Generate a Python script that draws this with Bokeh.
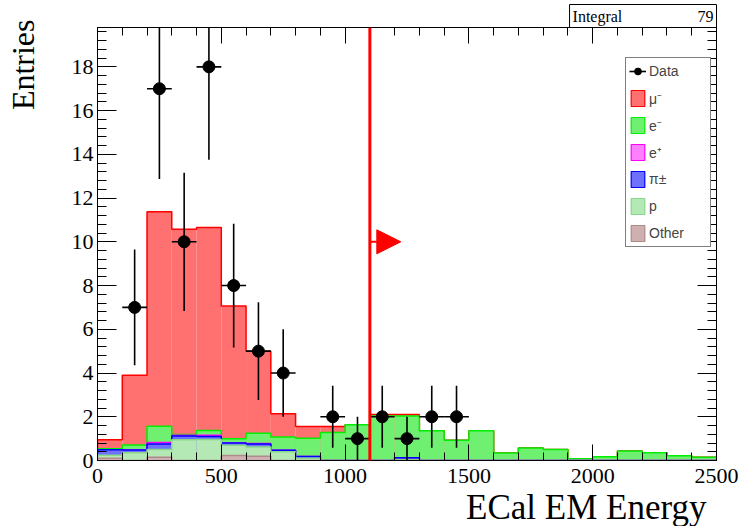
import numpy as np
from bokeh.plotting import figure
from bokeh.models import (Span, Arrow, NormalHead, Legend, LegendItem, CustomJSTickFormatter,
                          LinearAxis, SingleIntervalTicker, Range1d, Title)
from bokeh.embed import file_html
from bokeh.resources import INLINE

# ---------------- data ----------------
bin_edges = [0, 100, 200, 300, 400, 500, 600, 700, 800, 900, 1000, 1100, 1200,
             1300, 1400, 1500, 1600, 1700, 1800, 1900, 2000, 2100, 2200, 2300, 2400, 2500]

data_centers = [150, 250, 350, 450, 550, 650, 750, 950, 1050, 1150, 1250, 1350, 1450]
data_counts = [7, 17, 10, 18, 8, 5, 4, 2, 1, 2, 1, 2, 2]
integral_value = 79

# stacked MC components (bottom -> top)
other = [0.10, 0.00, 0.15, 0.00, 0.00, 0.23, 0.20, 0.00, 0.00, 0.00, 0.00, 0.00, 0.00,
         0.00, 0.00, 0.00, 0.00, 0.00, 0.00, 0.00, 0.00, 0.00, 0.00, 0.00, 0.00]
proton = [0.14, 0.36, 0.35, 0.95, 0.96, 0.47, 0.42, 0.40, 0.10, 0.00, 0.00, 0.00, 0.03,
          0.00, 0.00, 0.00, 0.00, 0.00, 0.00, 0.00, 0.00, 0.00, 0.00, 0.00, 0.00]
pion = [0.25, 0.12, 0.25, 0.17, 0.14, 0.10, 0.13, 0.07, 0.08, 0.00, 0.00, 0.00, 0.10,
        0.00, 0.00, 0.00, 0.00, 0.00, 0.00, 0.00, 0.00, 0.00, 0.00, 0.00, 0.00]
positron = [0.00, 0.00, 0.07, 0.03, 0.05, 0.00, 0.03, 0.00, 0.00, 0.00, 0.00, 0.00, 0.00,
            0.00, 0.00, 0.00, 0.00, 0.00, 0.00, 0.00, 0.00, 0.00, 0.00, 0.00, 0.00]
electron = [0.05, 0.23, 0.75, 0.04, 0.22, 0.20, 0.47, 0.60, 0.84, 1.28, 1.64, 2.03, 1.90,
            1.36, 0.93, 1.36, 0.34, 0.57, 0.50, 0.08, 0.17, 0.44, 0.35, 0.22, 0.15]
muon = [0.41, 3.19, 9.81, 9.39, 9.29, 6.06, 3.75, 1.07, 0.53, 0.27, 0.00, 0.07, 0.07,
        0.00, 0.00, 0.00, 0.00, 0.00, 0.00, 0.00, 0.00, 0.00, 0.00, 0.00, 0.00]

layer_names = ["Other", "p", "\u03c0\u00b1", "e\u207a", "e\u207b", "\u03bc\u207b"]
layer_values = [other, proton, pion, positron, electron, muon]
layer_fill = ["#cfb0b0", "#b4e8b4", "#7070ff", "#ff80ff", "#70f070", "#ff7070"]
layer_line = ["#b08a8a", "#8ad88a", "#0000ff", "#ff00ff", "#00ee00", "#ff0000"]

x_title = "ECal EM Energy"
y_title = "Entries"

cut_value = 1100
arrow_y = 10
arrow_end = 1225

x_min, x_max = 0, 2500
y_min, y_max = 0, 19.8

serif = "Liberation Serif"

# ---------------- figure ----------------
p = figure(width=742, height=526, x_range=Range1d(x_min, x_max), y_range=Range1d(y_min, y_max),
           output_backend="svg", toolbar_location=None, title="",
           min_border_left=97, min_border_right=26, min_border_top=27, min_border_bottom=66)
p.background_fill_color = "white"
p.border_fill_color = "white"
p.outline_line_color = "black"
p.outline_line_width = 1
p.grid.visible = False

bottom_ax = p.below[0]
left_ax = p.left[0]

edges = np.array(bin_edges, dtype=float)
cum = np.cumsum(np.array(layer_values, dtype=float), axis=0)


def step_path(tops):
    xs, ys = [edges[0]], [0.0]
    for i, t in enumerate(tops):
        xs += [edges[i], edges[i + 1]]
        ys += [t, t]
    xs.append(edges[-1])
    ys.append(0.0)
    return xs, ys


nan = float("nan")
legend_renderers = {}
for idx in reversed(range(len(layer_values))):
    tops = cum[idx]
    p.quad(left=edges[:-1], right=edges[1:], bottom=0, top=tops,
           fill_color=layer_fill[idx], line_color=None)
    xs, ys = step_path(tops)
    p.line(xs, ys, line_color=layer_line[idx], line_width=1.5)
    legend_renderers[idx] = p.quad(left=[nan], right=[nan], bottom=[nan], top=[nan],
                                   fill_color=layer_fill[idx], line_color=layer_line[idx],
                                   line_width=1.2)

# data points with errors
dc = np.array(data_centers, dtype=float)
dn = np.array(data_counts, dtype=float)
derr = np.sqrt(dn)
half_w = 50
r_h = p.segment(x0=dc - half_w, x1=dc + half_w, y0=dn, y1=dn, line_color="black", line_width=1.6)
r_v = p.segment(x0=dc, x1=dc, y0=dn - derr, y1=dn + derr, line_color="black", line_width=1.6)
r_pts = p.scatter(dc, dn, marker="circle", size=12, fill_color="black", line_color="black")

# cut line and arrow
p.add_layout(Span(location=cut_value, dimension="height", line_color="red", line_width=3))
p.add_layout(Arrow(x_start=cut_value, y_start=arrow_y, x_end=arrow_end, y_end=arrow_y,
                   line_color="red", line_width=2,
                   end=NormalHead(size=24, fill_color="red", line_color="red")))

# axes
bottom_ax.ticker = SingleIntervalTicker(interval=500, num_minor_ticks=5)
bottom_ax.major_tick_in = 16
bottom_ax.minor_tick_in = 8
left_ax.ticker = SingleIntervalTicker(interval=2, num_minor_ticks=5)
left_ax.major_tick_in = 19
left_ax.minor_tick_in = 9

top_ax = LinearAxis(ticker=SingleIntervalTicker(interval=500, num_minor_ticks=5))
top_ax.major_tick_in = 16
top_ax.minor_tick_in = 8
right_ax = LinearAxis(ticker=SingleIntervalTicker(interval=2, num_minor_ticks=5))
right_ax.major_tick_in = 19
right_ax.minor_tick_in = 9
for ax in (top_ax, right_ax):
    ax.formatter = CustomJSTickFormatter(code="return ''")
    ax.major_label_text_font_size = "1px"
    ax.major_label_standoff = 0
p.add_layout(top_ax, "above")
p.add_layout(right_ax, "right")

for ax in (bottom_ax, left_ax, top_ax, right_ax):
    ax.major_tick_out = 0
    ax.minor_tick_out = 0
    ax.axis_line_color = "black"
    ax.major_tick_line_color = "black"
    ax.minor_tick_line_color = "black"
    ax.major_label_text_font = serif
    ax.major_label_text_color = "black"

bottom_ax.major_label_text_font_size = "22px"
left_ax.major_label_text_font_size = "22px"
bottom_ax.major_label_standoff = 8
left_ax.major_label_standoff = 4

# x title, right aligned like the original
p.add_layout(Title(text=x_title, align="right", offset=10, standoff=0,
                   text_font=serif, text_font_size="35px", text_font_style="normal",
                   text_color="black"), "below")

# y title: the axis label, pushed to the top end with leading en spaces
left_ax.axis_label = "\u2002" * 22 + "\u2009" + y_title
left_ax.axis_label_text_font = serif
left_ax.axis_label_text_font_size = "32px"
left_ax.axis_label_text_font_style = "normal"
left_ax.axis_label_text_color = "black"
left_ax.axis_label_standoff = 28

# stat box as the title
p.title.text = "Integral" + "\u2002" * 9 + "\u2009" + str(integral_value)
p.title.align = "right"
p.title.text_font = serif
p.title.text_font_size = "16px"
p.title.text_font_style = "normal"
p.title.text_color = "black"
p.title.standoff = 0
p.title.border_line_color = "black"
p.title.border_line_width = 1
p.title.background_fill_color = "white"
try:
    p.title.padding = 3
except Exception:
    pass

# legend
items = [LegendItem(label="Data", renderers=[r_h, r_pts])]
for idx in reversed(range(len(layer_values))):
    items.append(LegendItem(label=layer_names[idx], renderers=[legend_renderers[idx]]))
legend = Legend(items=items, location=(528, 213), margin=0, padding=3, spacing=7,
                glyph_width=17, glyph_height=20, label_height=20, label_width=58,
                label_standoff=3, label_text_font="Liberation Sans",
                label_text_font_size="14px", border_line_color="black", border_line_width=1,
                background_fill_color="white", background_fill_alpha=1.0)
p.add_layout(legend, "center")

open("out.html", "w").write(file_html(p, INLINE))
